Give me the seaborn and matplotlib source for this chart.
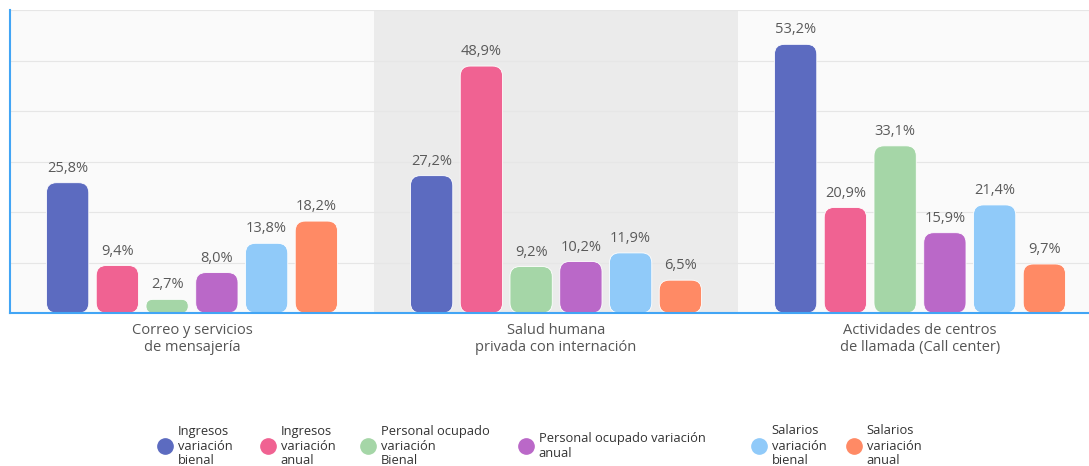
import matplotlib
matplotlib.use("Agg")
import matplotlib.pyplot as plt
from matplotlib.patches import FancyBboxPatch
from matplotlib.lines import Line2D
import seaborn as sns
import pandas as pd

categories = ["Correo y servicios\nde mensajería",
              "Salud humana\nprivada con internación",
              "Actividades de centros\nde llamada (Call center)"]
series = ["Ingresos\nvariación\nbienal", "Ingresos\nvariación\nanual",
          "Personal ocupado\nvariación\nBienal", "Personal ocupado variación\nanual",
          "Salarios\nvariación\nbienal", "Salarios\nvariación\nanual"]
values = [
    [25.8, 27.2, 53.2],
    [9.4, 48.9, 20.9],
    [2.7, 9.2, 33.1],
    [8.0, 10.2, 15.9],
    [13.8, 11.9, 21.4],
    [18.2, 6.5, 9.7],
]
colors = ["#5c6bc0", "#f06292", "#a5d6a7", "#ba68c8", "#90caf9", "#ff8a65"]
# left edge (px) of each legend entry
legend_x = [157, 260, 360, 518, 751, 846]

rows = []
for s, vals in zip(series, values):
    for c, v in zip(categories, vals):
        rows.append({"categoria": c, "serie": s, "valor": v})
df = pd.DataFrame(rows)

sns.set_style("white")
plt.rcParams["font.family"] = ["Open Sans", "DejaVu Sans"]

fig = plt.figure(figsize=(10.89, 4.66), dpi=100)
ax = fig.add_axes([10 / 1089, 153 / 466, 1092 / 1089, 303 / 466])
ax.set_facecolor("#fafafa")

sns.barplot(data=df, x="categoria", y="valor", hue="serie", hue_order=series,
            palette=colors, width=0.82, gap=0.15, legend=False, ax=ax, zorder=3)

ax.set_xlim(-0.5, 2.5)
ax.set_ylim(0, 60)
ax.axvspan(0.5, 1.5, color="#ebebeb", zorder=1, lw=0)
ax.set_yticks(range(0, 61, 10))
ax.yaxis.grid(True, color="#e6e6e6", lw=0.8, zorder=2)
ax.set_axisbelow(False)
ax.tick_params(axis="y", left=False, labelleft=False)
ax.tick_params(axis="x", length=0, pad=7, labelsize=10.5, labelcolor="#555555")
ax.set_xlabel("")
ax.set_ylabel("")
for side in ["top", "right"]:
    ax.spines[side].set_visible(False)
for side in ["left", "bottom"]:
    ax.spines[side].set_color("#42a5f5")
    ax.spines[side].set_linewidth(1.5)
    ax.spines[side].set_zorder(5)

# rounded bars
fig.canvas.draw()
p0 = ax.transData.transform((0, 0))
p1 = ax.transData.transform((1, 1))
px_x = p1[0] - p0[0]
px_y = p1[1] - p0[1]
radius_px = 10
for cont, col in zip(ax.containers, colors):
    for bar in cont:
        x, y = bar.get_x(), bar.get_y()
        w, h = bar.get_width(), bar.get_height()
        r = min(radius_px, h * px_y / 2, w * px_x / 2) / px_x
        fb = FancyBboxPatch((x, y), w, h,
                            boxstyle=f"round,pad=0,rounding_size={r}",
                            mutation_aspect=px_x / px_y,
                            facecolor=col, edgecolor="white", lw=0.6, zorder=3)
        ax.add_patch(fb)
        bar.set_visible(False)
    labels = [f"{b.get_height():.1f}%".replace(".", ",") for b in cont]
    ax.bar_label(cont, labels=labels, padding=5, fontsize=10.5, color="#5a5a5a")

for lx, lab, c in zip(legend_x, series, colors):
    h = Line2D([], [], marker="o", ls="", markersize=11, markerfacecolor=c,
               markeredgecolor=c)
    fig.legend([h], [lab], loc="center left",
               bbox_to_anchor=(lx / 1089, 1 - 446 / 466),
               frameon=False, fontsize=9.3, labelcolor="#333333",
               handletextpad=0.4, handlelength=1.2, borderpad=0,
               borderaxespad=0, labelspacing=0.2)

fig.savefig("out.png", dpi=100)
